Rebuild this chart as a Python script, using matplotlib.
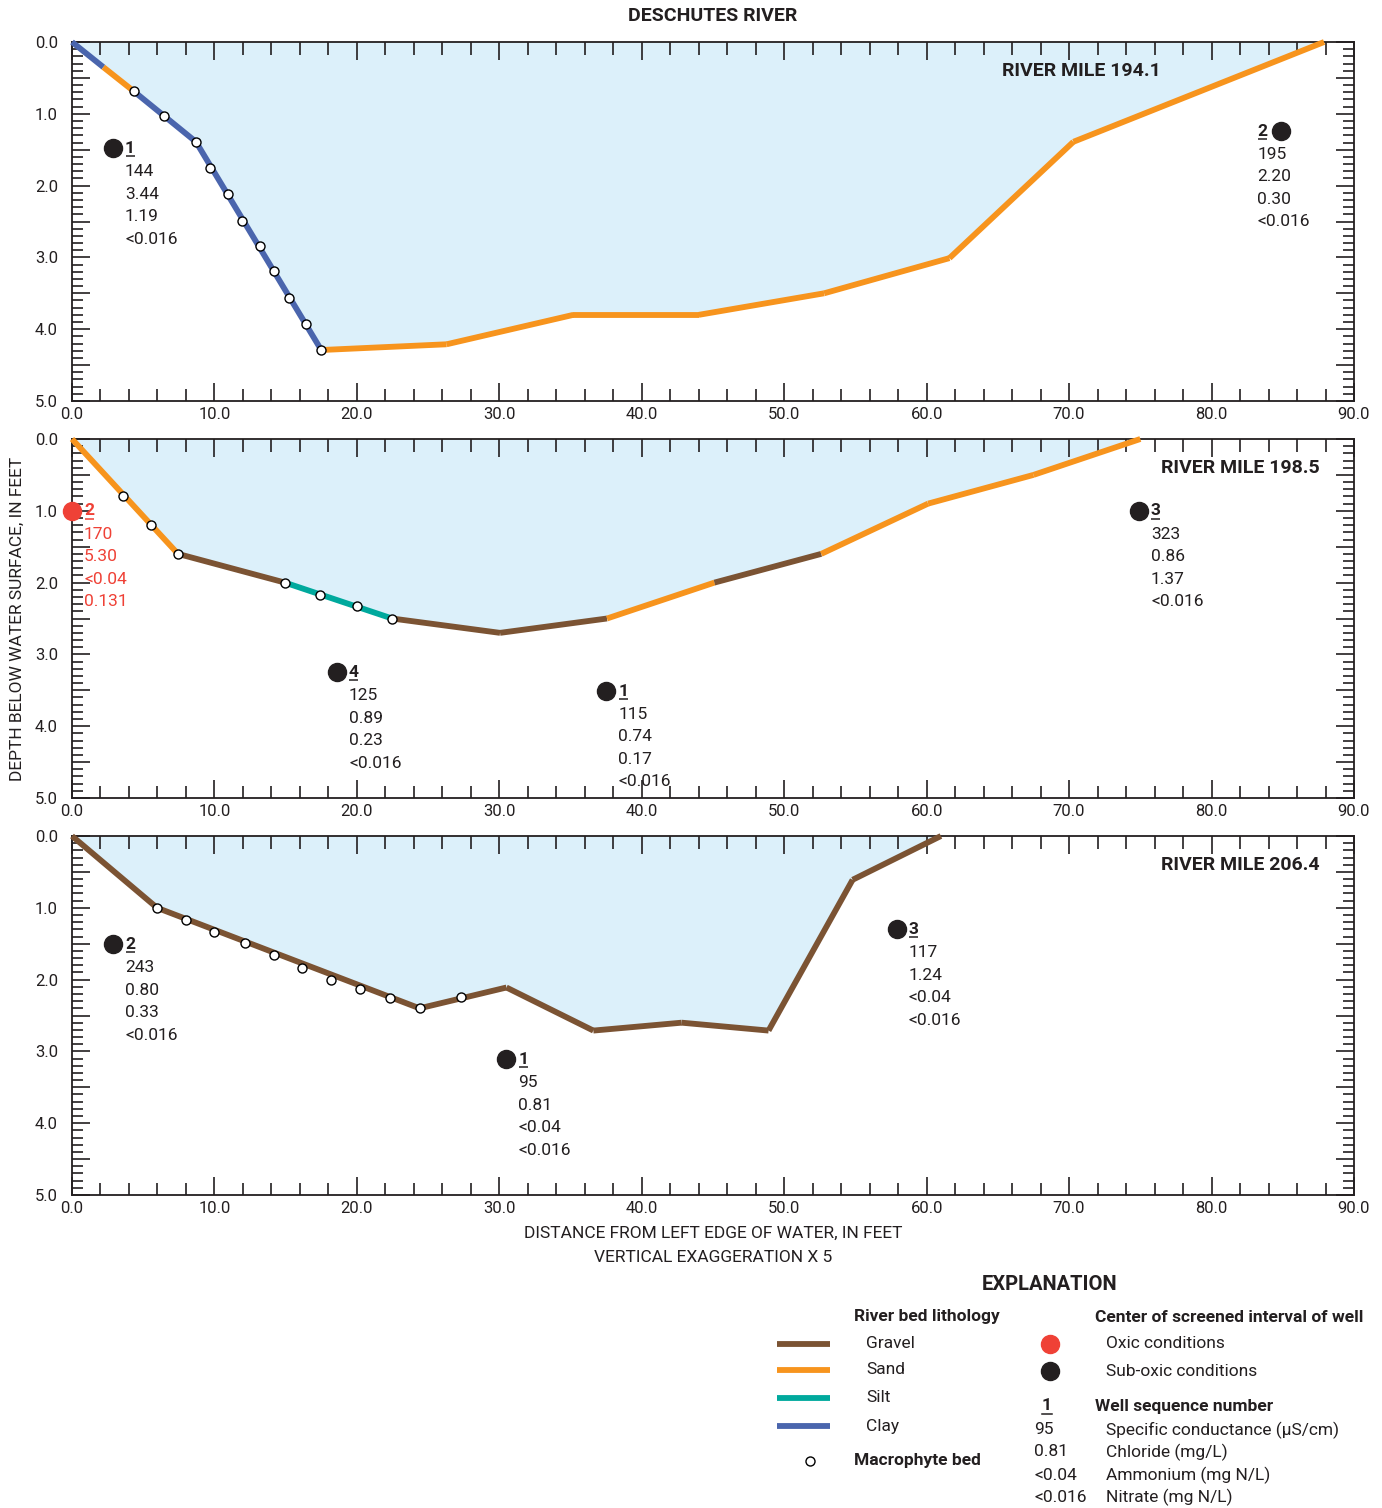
import matplotlib
matplotlib.use("Agg")
import matplotlib.pyplot as plt
from matplotlib.ticker import MultipleLocator, FuncFormatter
from matplotlib.transforms import offset_copy

plt.rcParams["font.family"] = ["Roboto", "DejaVu Sans"]

lith_colors = {"gravel": "#7b5333", "sand": "#f7941d", "silt": "#00a99d", "clay": "#4a65ad"}
water_color = "#dcf0fa"
oxic_color = "#ef4136"
suboxic_color = "#231f20"
txt_color = "#231f20"

# ---- river mile 194.1 ----
rm194_x = [0, 2.2, 4.3, 8.7, 17.5, 26.3, 35.2, 44.0, 52.8, 61.6, 70.3, 87.9]
rm194_y = [0, 0.35, 0.68, 1.39, 4.29, 4.21, 3.80, 3.80, 3.50, 3.01, 1.39, 0]
rm194_lith = ["clay", "sand", "clay", "clay"] + ["sand"] * 7
rm194_mx = [4.35, 6.46, 8.7, 9.7, 10.95, 11.9, 13.2, 14.2, 15.2, 16.4, 17.5]
rm194_my = [0.68, 1.03, 1.39, 1.75, 2.12, 2.49, 2.84, 3.19, 3.57, 3.93, 4.29]
rm194_wells = [
    ("1", 2.88, 1.48, False, ["144", "3.44", "1.19", "<0.016"], "right"),
    ("2", 84.9, 1.24, False, ["195", "2.20", "0.30", "<0.016"], "left"),
]

# ---- river mile 198.5 ----
rm198_x = [0, 7.44, 14.95, 22.47, 30.05, 37.56, 45.1, 52.6, 60.1, 67.5, 75.0]
rm198_y = [0, 1.60, 2.00, 2.50, 2.70, 2.50, 2.00, 1.60, 0.90, 0.50, 0]
rm198_lith = ["sand", "gravel", "silt", "gravel", "gravel", "sand", "gravel", "sand", "sand", "sand"]
rm198_mx = [3.58, 5.55, 7.44, 14.95, 17.4, 20.0, 22.47]
rm198_my = [0.79, 1.20, 1.60, 2.00, 2.17, 2.32, 2.50]
rm198_wells = [
    ("2", 0.0, 1.0, True, ["170", "5.30", "<0.04", "0.131"], "right"),
    ("4", 18.6, 3.25, False, ["125", "0.89", "0.23", "<0.016"], "right"),
    ("1", 37.5, 3.51, False, ["115", "0.74", "0.17", "<0.016"], "right"),
    ("3", 74.9, 1.0, False, ["323", "0.86", "1.37", "<0.016"], "right"),
]

# ---- river mile 206.4 ----
rm206_x = [0, 5.97, 24.4, 30.5, 36.6, 42.8, 48.9, 54.8, 61.0]
rm206_y = [0, 1.00, 2.40, 2.11, 2.71, 2.60, 2.71, 0.61, 0]
rm206_lith = ["gravel"] * 8
rm206_mx = [5.97, 8.0, 10.0, 12.15, 14.2, 16.15, 18.2, 20.2, 22.3, 24.4, 27.3]
rm206_my = [1.00, 1.17, 1.34, 1.49, 1.66, 1.84, 2.00, 2.13, 2.26, 2.40, 2.24]
rm206_wells = [
    ("2", 2.88, 1.51, False, ["243", "0.80", "0.33", "<0.016"], "right"),
    ("1", 30.5, 3.11, False, ["95", "0.81", "<0.04", "<0.016"], "right"),
    ("3", 57.9, 1.30, False, ["117", "1.24", "<0.04", "<0.016"], "right"),
]

sections = [
    ("RIVER MILE 194.1", 76.4, rm194_x, rm194_y, rm194_lith, rm194_mx, rm194_my, rm194_wells),
    ("RIVER MILE 198.5", 87.6, rm198_x, rm198_y, rm198_lith, rm198_mx, rm198_my, rm198_wells),
    ("RIVER MILE 206.4", 87.6, rm206_x, rm206_y, rm206_lith, rm206_mx, rm206_my, rm206_wells),
]

W, H = 1382, 1508
fig = plt.figure(figsize=(W / 100, H / 100), dpi=100)

px = 0.72  # points per pixel at dpi 100
tops = [42, 439, 836]
ax_h = 359
ax_left, ax_w = 72, 1282
fs = 12.5


def ylab(v, p):
    if abs(v - round(v)) < 1e-6:
        return "%.1f" % v
    return ""


def seq_number(ax, num, xy, dx, color):
    # underlined well number
    ax.annotate(num, xy, xytext=(dx, 0), textcoords="offset points",
                ha="left", va="center", fontsize=fs, color=color,
                fontweight="bold", zorder=6)
    tr = offset_copy(ax.transData, fig=fig, x=dx + 4.5 * px, y=-8 * px, units="points")
    ax.plot([xy[0]], [xy[1]], marker="_", ms=9 * px, mew=1.1, color=color,
            transform=tr, clip_on=False, zorder=6)


for (name, name_x, bx, by, lith, mx, my, wells), top in zip(sections, tops):
    ax = fig.add_axes([ax_left / W, 1 - (top + ax_h) / H, ax_w / W, ax_h / H])
    ax.set_xlim(0, 90)
    ax.set_ylim(5, 0)
    ax.fill_between(bx, 0, by, color=water_color, lw=0, zorder=1)
    for i, l in enumerate(lith):
        ax.plot(bx[i:i + 2], by[i:i + 2], color=lith_colors[l], lw=4.2,
                solid_capstyle="butt", solid_joinstyle="round", zorder=3, clip_on=False)
    ax.plot(mx, my, "o", ms=6.5, mfc="white", mec="black", mew=1.0, zorder=4, clip_on=False)
    ax.text(name_x, 0.4, name, ha="right", va="center", fontsize=14,
            fontweight="bold", color=txt_color)

    for num, wx, wy, oxic, vals, side in wells:
        c = oxic_color if oxic else suboxic_color
        ax.plot(wx, wy, "o", ms=13, color=c, zorder=5, clip_on=False)
        dx = 12 * px if side == "right" else -24 * px
        seq_number(ax, num, (wx, wy), dx, c)
        ax.annotate("\n".join(vals), (wx, wy), xytext=(dx, -16 * px),
                    textcoords="offset points", ha="left", va="top",
                    fontsize=fs, color=c, linespacing=1.62)

    ax.xaxis.set_major_locator(MultipleLocator(10))
    ax.xaxis.set_minor_locator(MultipleLocator(2))
    ax.yaxis.set_major_locator(MultipleLocator(0.5))
    ax.yaxis.set_minor_locator(MultipleLocator(0.1))
    ax.xaxis.set_major_formatter(FuncFormatter(lambda v, p: "%.1f" % v))
    ax.yaxis.set_major_formatter(FuncFormatter(ylab))
    ax.tick_params(which="both", direction="in", top=True, right=True, colors=txt_color,
                   labelsize=12, width=1.2)
    ax.tick_params(axis="x", which="major", length=13, pad=4)
    ax.tick_params(axis="x", which="minor", length=9)
    ax.tick_params(axis="y", which="major", length=13, pad=10)
    ax.tick_params(axis="y", which="minor", length=8)
    for s in ax.spines.values():
        s.set_linewidth(1.3)
        s.set_color(txt_color)

fig.text(713 / W, 1 - 16 / H, "DESCHUTES RIVER", ha="center", va="center",
         fontsize=14, fontweight="bold", color=txt_color)
fig.text(17 / W, 1 - 619 / H, "DEPTH BELOW WATER SURFACE, IN FEET", rotation=90,
         ha="center", va="center", fontsize=12.5, color=txt_color)
fig.text(713 / W, 1 - 1233 / H, "DISTANCE FROM LEFT EDGE OF WATER, IN FEET",
         ha="center", va="center", fontsize=12.5, color=txt_color)
fig.text(713 / W, 1 - 1257 / H, "VERTICAL EXAGGERATION X 5",
         ha="center", va="center", fontsize=12.5, color=txt_color)

# explanation block, laid out in figure pixels
lg = fig.add_axes([0, 0, 1, 1], zorder=-1)
lg.set_xlim(0, W)
lg.set_ylim(H, 0)
lg.axis("off")
lg.text(1050, 1285, "EXPLANATION", ha="center", va="center", fontsize=14.5,
        fontweight="bold", color=txt_color)
lg.text(854, 1317, "River bed lithology", ha="left", va="center", fontsize=fs,
        fontweight="bold", color=txt_color)
lith_rows = [("gravel", "Gravel", 1344), ("sand", "Sand", 1370),
             ("silt", "Silt", 1398), ("clay", "Clay", 1426)]
for key, lab, yy in lith_rows:
    lg.plot([777, 830], [yy, yy], color=lith_colors[key], lw=4.2, solid_capstyle="butt")
    lg.text(866, yy, lab, ha="left", va="center", fontsize=fs, color=txt_color)
lg.plot([810], [1461], "o", ms=6.5, mfc="white", mec="black", mew=1.0)
lg.text(854, 1461, "Macrophyte bed", ha="left", va="center", fontsize=fs,
        fontweight="bold", color=txt_color)

lg.text(1095, 1317, "Center of screened interval of well", ha="left", va="center",
        fontsize=fs, fontweight="bold", color=txt_color)
lg.plot([1050], [1344], "o", ms=13, color=oxic_color)
lg.text(1106, 1344, "Oxic conditions", ha="left", va="center", fontsize=fs, color=txt_color)
lg.plot([1050], [1371], "o", ms=13, color=suboxic_color)
lg.text(1106, 1371, "Sub-oxic conditions", ha="left", va="center", fontsize=fs, color=txt_color)
lg.text(1047, 1405, "1", ha="center", va="center", fontsize=fs, fontweight="bold",
        color=txt_color)
lg.plot([1042, 1052], [1414, 1414], color=txt_color, lw=1.1)
lg.text(1095, 1407, "Well sequence number", ha="left", va="center", fontsize=fs,
        fontweight="bold", color=txt_color)
key_rows = [("95", "Specific conductance (\u00b5S/cm)", 1430),
            ("0.81", "Chloride (mg/L)", 1452),
            ("<0.04", "Ammonium (mg N/L)", 1475),
            ("<0.016", "Nitrate (mg N/L)", 1497)]
for v, d, yy in key_rows:
    lg.text(1034, yy, v, ha="left", va="center", fontsize=fs, color=txt_color)
    lg.text(1106, yy, d, ha="left", va="center", fontsize=fs, color=txt_color)

fig.savefig("out.png", dpi=100)
